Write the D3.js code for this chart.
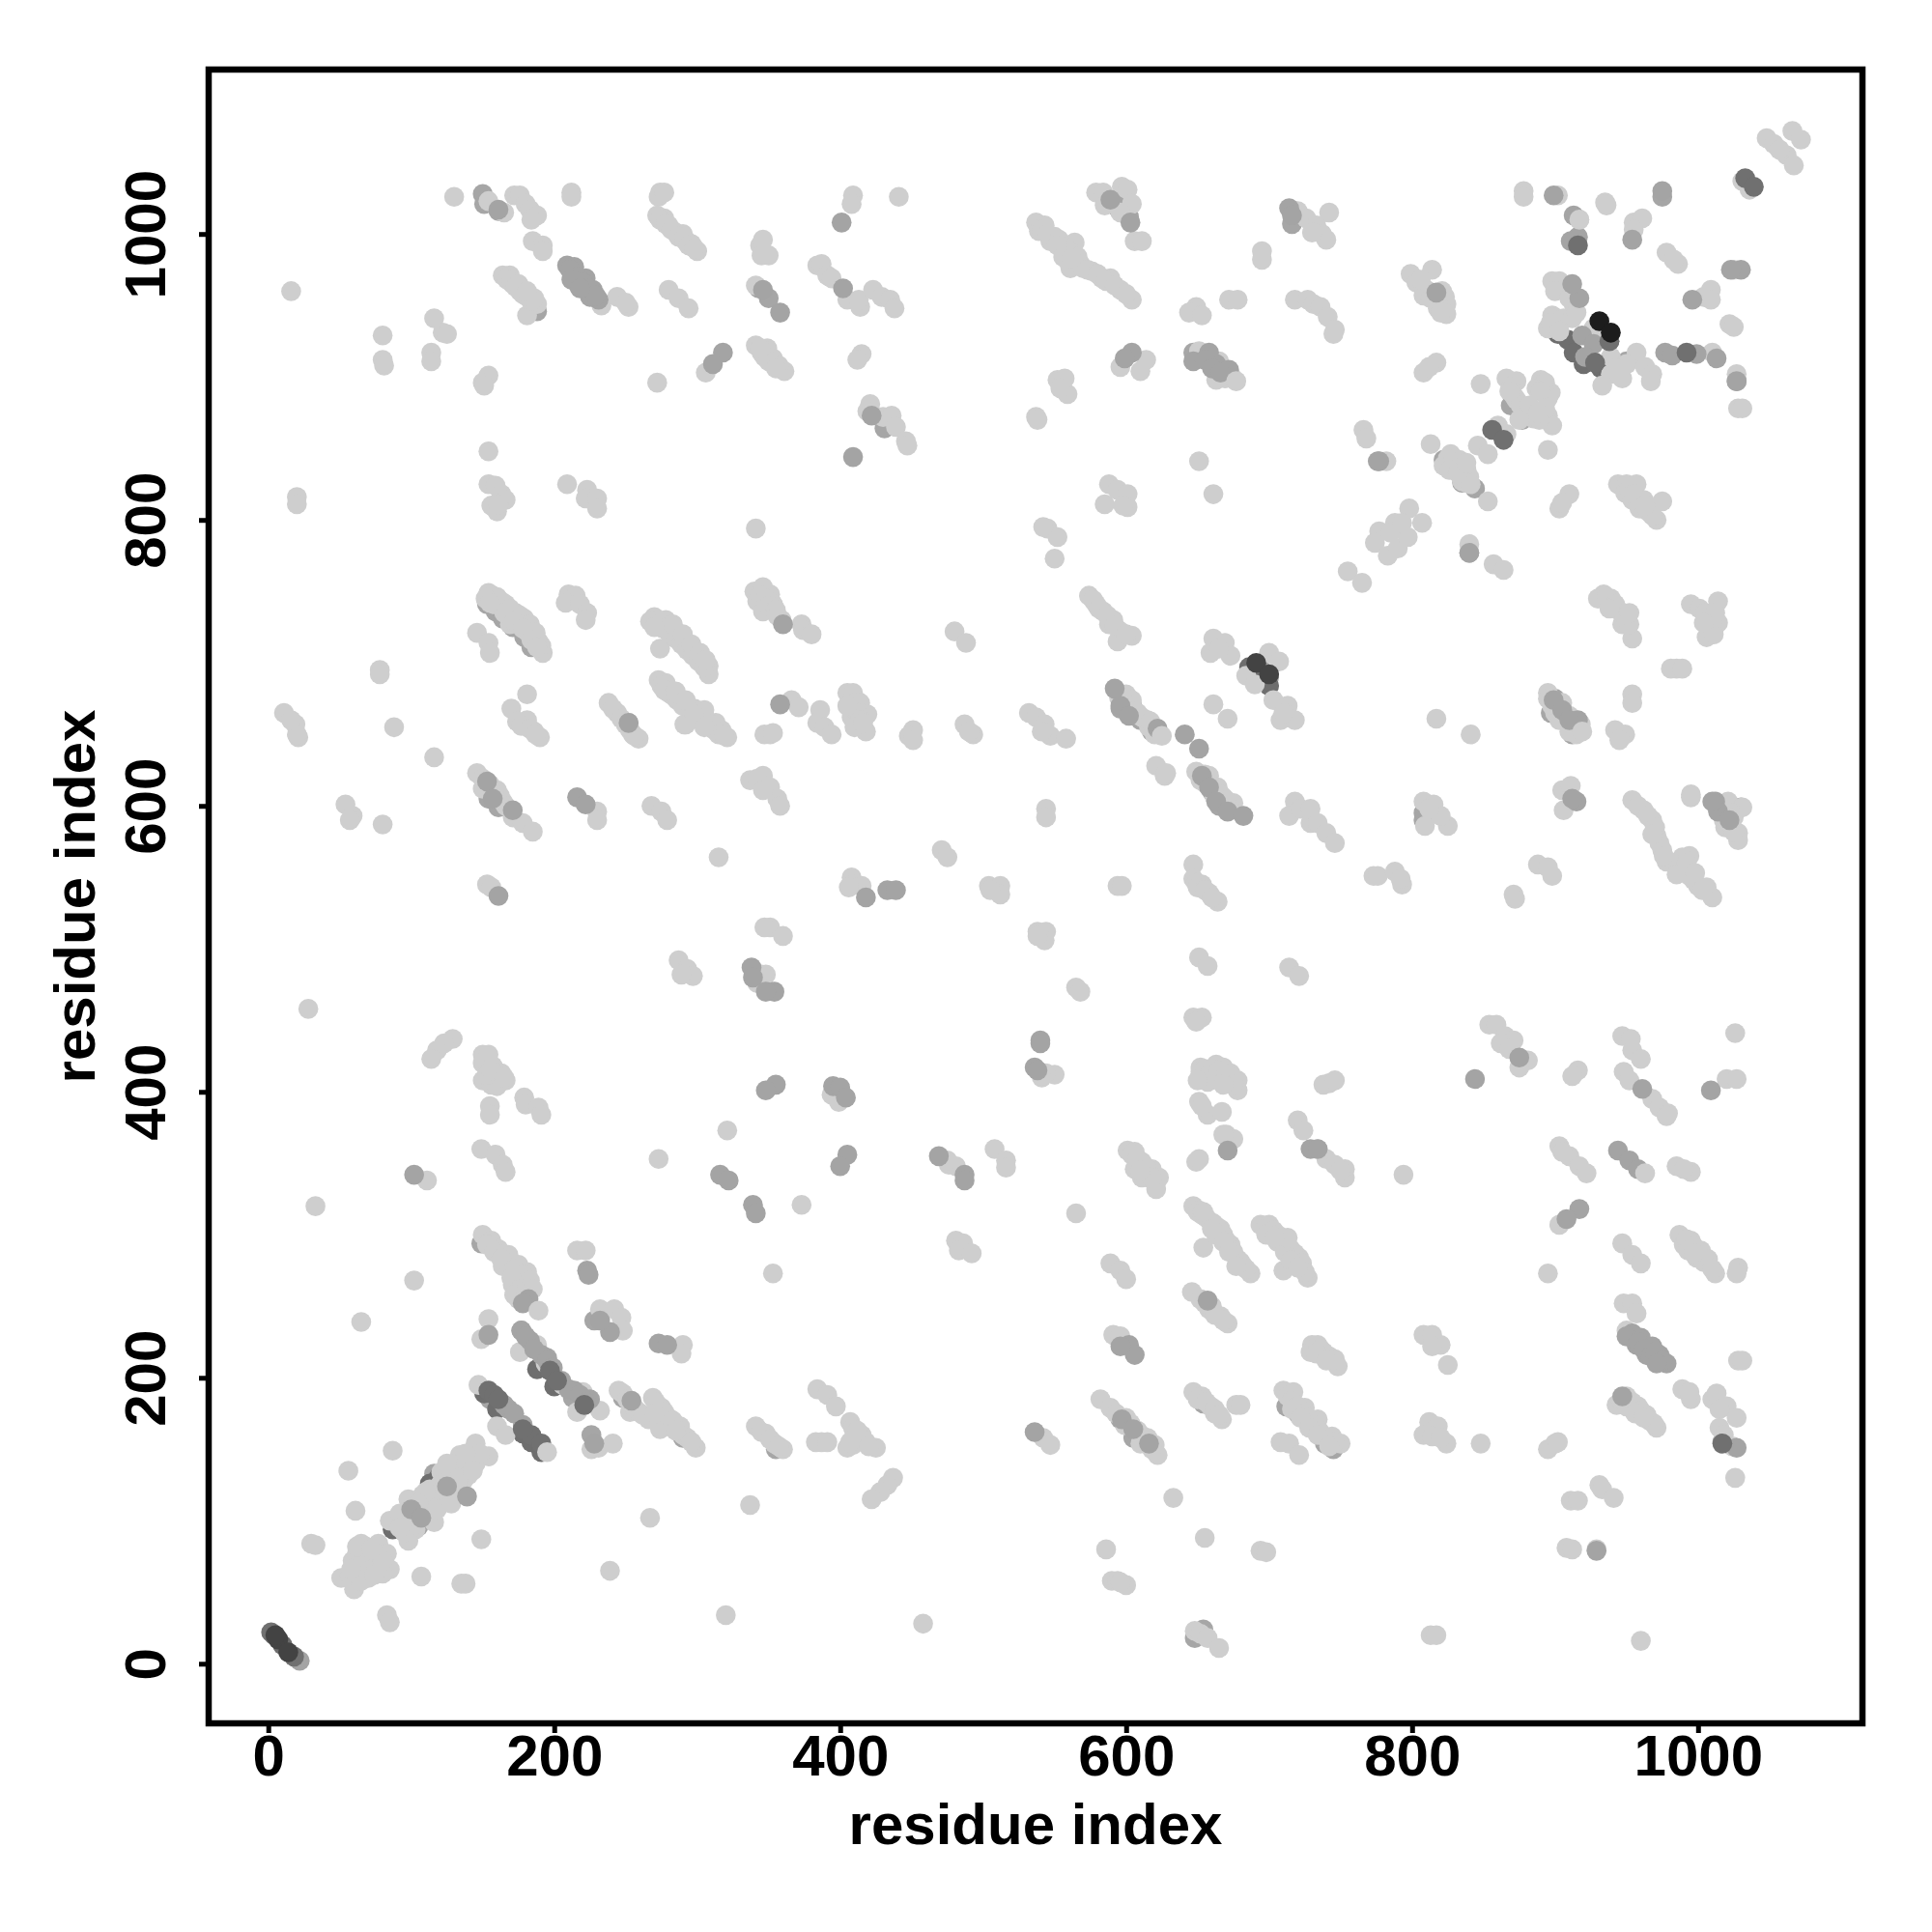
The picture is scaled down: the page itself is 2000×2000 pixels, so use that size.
<!DOCTYPE html>
<html><head><meta charset="utf-8">
<script src="https://cdnjs.cloudflare.com/ajax/libs/d3/7.8.5/d3.min.js"></script>
<style>html,body{margin:0;padding:0;background:#fff}svg{display:block}</style>
</head><body><svg id="chart" width="2000" height="2000"></svg>
<script>
const tickValues = [0,200,400,600,800,1000];
const axisTitle = "residue index";
const shadeNames = ["#a6a6a6","#6e6e6e","#cecece","#cecece","#a4a4a4","#a4a4a4","#707070","#434343","#1c1c1c","#cecece"];

const midUnder = [[150,1028],[151,1021],[161,1016],[188,946],[153,741],[159,736],[164,731],[171,725],[179,718],[184,711],[343,962],[350,955],[431,864],[647,917],[1013,600],[808,595],[808,590],[900,675],[897,665],[912,650],[869,880],[877,870],[822,842],[835,826],[844,822],[154,605],[161,599],[170,597],[252,658],[600,1024],[595,1017],[602,1012],[716,1007],[1030,599],[149,294],[232,241],[228,240],[253,184],[248,186],[155,185],[177,233],[184,222],[195,214],[213,186],[225,183],[290,158],[596,171],[605,158],[654,182],[712,180],[720,175],[739,154],[745,150],[355,150],[654,24],[648,18],[116,133],[124,130],[105,96],[1017,155],[1027,897],[975,1026],[776,841],[840,777],[950,911],[665,600],[660,610],[700,690],[694,696],[604,671],[596,668],[610,660],[618,652],[226,160],[281,166]];
const darkUnder = [[909,926],[913,917],[920,909],[932,906],[188,206],[200,194],[221,181],[160,178],[178,161],[184,155],[87,94],[113,126],[119,130],[4,20],[10,13],[124,133],[151,189],[191,148],[686,697],[700,684],[692,692],[860,864],[902,930],[938,925]];
const lightMarks = [
[16,960],[130,1026],[154,1023],[165,1015],[172,1027],[176,1027],[180,1021],[183,1017],[188,1013],[184,1010],[185,995],[192,992],[192,988],[212,1029],[212,1026],[274,1029],[273,1026],[277,1029],[272,1013],[277,1011],[280,1006],[285,1001],[290,1000],[292,995],[296,993],[300,988],[344,992],[346,996],[350,985],[345,985],[164,971],[169,971],[171,965],[176,960],[181,956],[188,951],[181,943],[233,950],[244,956],[252,949],[250,952],[280,961],[287,955],[294,948],[80,929],[80,912],[81,908],[116,941],[122,931],[125,930],[114,917],[114,911],[154,901],[150,896],[151,894],[272,896],[306,903],[341,964],[341,922],[345,917],[349,920],[353,913],[361,904],[357,908],[154,848],[20,816],[20,811],[154,825],[159,824],[163,818],[166,814],[156,810],[160,806],[161,811],[209,825],[223,821],[222,815],[230,815],[230,808],[341,794],
[154,749],[160,746],[166,741],[173,735],[179,731],[169,727],[181,722],[189,715],[192,707],[174,729],[185,718],[210,748],[215,747],[208,742],[218,741],[223,735],[222,730],[270,732],[267,729],[278,730],[280,725],[288,717],[295,710],[303,704],[308,698],[308,692],[274,710],[284,722],[292,714],[299,707],[273,688],[278,686],[280,679],[288,673],[295,669],[305,667],[313,658],[321,648],[292,657],[303,660],[317,653],[340,750],[342,743],[346,736],[346,753],[351,748],[353,741],[359,730],[373,727],[374,723],[380,720],
[409,1027],[408,1021],[441,1026],[384,978],[387,979],[391,971],[394,969],[405,954],[414,949],[413,954],[423,961],[429,956],[435,954],[438,948],[415,916],[412,912],[421,881],[419,876],[430,872],[436,873],[439,865],[446,855],[447,852],[537,1008],[543,1006],[539,1002],[550,998],[547,995],[564,994],[557,989],[564,986],[560,980],[568,979],[576,974],[589,969],[583,969],[596,961],[604,954],[561,976],[579,1029],[584,1029],[585,1020],[597,1033],[601,1031],[604,1021],[596,1015],[606,995],[611,995],[695,988],[695,982],[720,1016],[726,1011],[742,1015],[740,996],[733,1006],[737,1000],[730,1001],[718,954],[727,954],[731,951],[736,949],[741,942],[746,933],[745,930],[649,949],[644,945],[653,943],[672,954],[678,954],[596,907],[614,912],[610,904],[651,918],[665,911],[672,903],[663,898],[669,899],[552,898],[557,899],[559,888],[554,892],[537,872],[538,870],[651,841],[661,818],[588,825],[594,821],[601,818],[585,811],[601,809],[598,810],[545,794],[552,788],[550,773],[542,795],[574,747],[579,741],[584,736],[591,730],[588,727],[596,722],[604,719],[594,715],
[480,722],[488,714],[661,717],[669,714],[659,707],[673,705],[665,710],[700,707],[707,701],[684,691],[690,685],[703,674],[713,670],[708,660],[718,660],[710,665],[661,671],[671,661],[366,674],[371,669],[386,667],[384,658],[389,655],[394,650],[405,679],[409,679],[414,672],[419,664],[408,662],[418,652],[351,650],[347,650],[353,651],[451,653],[448,649],[451,646],[487,657],[493,650],[490,652],[532,665],[537,662],[543,657],[547,649],[558,647],[541,652],[600,678],[604,674],[608,665],[615,660],[616,655],[621,628],[627,621],[628,623],[649,624],[658,621],[664,613],[668,606],[675,602],[718,603],[714,593],[722,598],[729,588],[729,598],[734,588],[740,581],[746,574],[346,621],[351,613],[356,605],[358,600],[337,618],[342,619],[346,611],[544,598],[544,592],[471,569],[475,564],[408,550],[409,545],[415,544],[406,543],[504,544],[512,544],[512,538],[505,541],[594,544],[597,544],[647,559],[647,549],[653,545],[658,539],[664,533],[649,546],[538,512],[544,512],[543,506],[538,509],[351,515],[347,515],[360,509],[651,494],[657,488],[714,487],[721,481],[565,473],[568,470],[348,482],[346,475],[287,492],[293,486],[297,481],[289,482],[345,482],[342,476],
[550,412],[544,413],[541,410],[647,452],[653,452],[649,449],[652,417],[663,419],[668,417],[662,409],[678,408],[678,401],[673,413],[652,414],[651,393],[657,384],[667,386],[653,390],[670,370],[675,367],[668,370],[649,351],[651,353],[601,359],[606,358],[611,351],[618,346],[623,340],[616,340],[621,332],[606,346],[611,340],[720,380],[724,373],[734,360],[740,353],[746,349],[753,346],[753,340],[750,345],[394,398],[399,393],[476,349],[481,348],[475,352],[508,360],[516,352],[516,347],
[954,717],[1006,718],[1011,723],[995,741],[1001,738],[1014,743],[1007,733],[1014,728],[1009,725],[1011,720],[985,696],[981,696],[989,696],[954,678],[954,672],[817,661],[841,650],[895,679],[905,672],[910,663],[900,665],[942,653],[949,650],[945,646],[808,603],[815,601],[809,586],[825,586],[820,593],[812,598],[905,611],[911,614],[906,597],[954,604],[962,597],[968,590],[971,579],[975,569],[994,565],[978,561],[986,559],[994,551],[1000,544],[1006,543],[1010,536],[989,564],[995,608],[995,606],[1021,603],[1031,599],[1019,585],[1028,581],[1028,576],[1023,595],[888,559],[898,551],[895,557],[871,538],[872,535],[773,551],[776,551],[788,554],[793,545],[792,549],[742,406],[738,405],[746,408],[854,447],[859,447],[865,439],[871,436],[862,434],[881,422],[875,417],[868,430],[916,415],[912,411],[1026,441],[947,439],[953,437],[954,429],[960,423],[948,414],[952,408],[968,395],[973,389],[979,385],[978,383],[1020,409],[1027,409],[903,362],[910,355],[917,348],[922,343],[905,358],[985,348],[995,344],[990,346],[794,342],
[1048,1067],[1053,1063],[1062,1055],[1067,1048],[1066,1072],[1072,1066],[1057,1059],[878,1030],[878,1026],[902,1027],[935,1022],[936,1020],[917,1010],[955,1008],[961,1011],[955,1003],[978,987],[986,979],[983,982],[1025,975],[1009,961],[1004,956],[1009,954],[1022,937],[1025,935],[1010,917],[1027,902],[1028,878],[1031,878],[898,967],[903,967],[906,961],[913,951],[898,943],[895,934],[906,941],[912,941],[901,936],[927,934],[935,927],[939,914],[957,917],[950,909],[939,902],[933,894],[947,899],[963,907],[968,902],[967,897],[943,906],[814,975],[799,972],[803,966],[810,961],[823,956],[824,951],[824,944],[808,957],[818,951],[808,903],[817,910],[812,907],[848,895],[866,899],[873,897],[871,887],[880,877],[890,898],[897,889],[887,892],[893,896],[885,871],[895,873],[898,866],[889,870],[860,866],[866,860],[846,852],[853,846],[895,849],[813,853],[766,863],[768,857],[782,841],[822,838],[827,846],[833,842],[830,837],[838,835],[840,830],[835,827],[853,813],[857,769],[864,765],[840,783],[755,764],[765,756],[944,825],[950,825],[957,825],[949,819],[962,814],[975,813],[959,808],[971,800],[954,814],[910,818],[903,808],[905,812],[934,748],[939,745],[944,737],[950,731],[947,727],[952,727],[930,745],[798,808],[788,798],[777,792],[774,784],[783,775],[790,780],[797,788],[785,791],[793,798],
[11,665],[19,657],[21,648],[20,650],[16,660],[78,695],[78,692],[88,655],[116,634],[146,721],[154,714],[155,707],[54,601],[59,593],[57,590],[80,587],[146,623],[160,611],[164,603],[171,592],[178,588],[185,582],[162,607],[153,545],[156,543],[238,672],[244,665],[253,653],[259,647],[181,678],[170,668],[174,659],[181,660],[190,648],[186,652],[291,657],[230,596],[230,590],[268,600],[275,596],[279,590],[315,564],[28,458],[129,437],[123,434],[118,429],[114,423],[150,426],[154,426],[150,420],[163,413],[166,408],[150,408],[156,405],[160,404],[179,396],[180,391],[189,389],[191,384],[155,390],[155,384],[149,360],[159,356],[164,349],[166,344],[321,373],[273,353],[111,338],
[33,320],[102,268],[65,239],[150,300],[156,296],[161,290],[168,286],[175,279],[181,274],[164,278],[171,265],[175,255],[216,289],[222,289],[232,248],[242,248],[247,242],[248,233],[290,223],[289,217],[341,166],[348,161],[354,154],[360,150],[154,241],[149,227],[176,218],[188,223],[194,210],[206,195],[232,177],[216,176],[220,190],[245,191],[253,176],[259,176],[269,186],[275,179],[280,172],[274,164],[288,166],[290,160],[299,151],[266,171],[147,195],[160,166],[166,160],[226,150],[231,151],[241,154],[145,154],[154,145],[134,146],[140,139],[129,136],[121,134],[137,129],[113,122],[121,115],[129,119],[98,115],[112,112],[116,99],[85,100],[92,105],[103,94],[98,86],[133,141],[126,128],[108,118],[100,100],[65,84],[77,84],[83,77],[59,72],[70,75],[65,65],[72,67],[85,66],[51,60],[60,52],[70,60],[80,63],[57,62],[62,77],[77,75],[68,82],[56,135],[87,149],[61,107],[30,84],[33,83],[149,87],[107,61],[135,56],[138,56],[83,34],[85,29],[239,65],[320,34],[267,102],[337,111],
[373,321],[353,273],[565,315],[481,296],[486,294],[483,289],[492,287],[647,320],[651,317],[656,312],[666,304],[673,293],[654,291],[678,283],[687,273],[661,308],[682,278],[694,307],[700,307],[709,298],[715,290],[721,284],[710,275],[727,270],[718,287],[589,280],[596,275],[600,269],[646,260],[652,255],[658,248],[666,243],[671,238],[591,230],[596,229],[582,185],[589,179],[599,167],[612,159],[620,153],[622,146],[610,154],[384,192],[391,188],[397,180],[387,155],[383,155],[391,155],[407,169],[415,160],[405,151],[425,151],[410,160],[437,130],[433,125],[428,120],[422,115],[542,158],[547,153],[633,116],[586,80],[655,88],[694,79],[698,78],[590,58],[594,58],[600,55],[596,57],[458,28],[648,23],[652,21],[657,18],[665,11],[647,190],[653,187],[659,180],[667,171],[662,175],[677,181],[680,181],[710,191],[717,190],[725,179],[731,169],[734,171],[744,159],[750,154],[708,155],[714,154],[721,146],[730,223],[729,218],[734,223],[738,218],[746,213],[748,208],
[903,307],[895,273],[947,294],[954,286],[960,280],[987,300],[995,296],[1002,289],[1007,283],[1012,273],[990,293],[999,284],[1028,277],[1027,273],[948,252],[954,252],[957,245],[950,233],[1028,212],[1031,212],[808,230],[814,230],[820,223],[814,222],[825,209],[989,192],[995,185],[994,190],[1010,185],[1013,189],[1020,180],[1027,172],[1015,178],[943,181],[950,187],[958,180],[964,174],[971,165],[1015,165],[1018,160],[1024,152],[1026,130],[931,125],[933,122],[941,116],[911,114],[916,114],[908,81],[912,80],[929,80],[813,20],[817,20],[960,16],[848,154],[812,169],[808,160],[818,166],[824,154],[814,159],[820,158],[900,154],[895,150],[902,155]
];
const lightFill = [[157,747],[163,743],[169,738],[176,733],[183,727],[187,721],[191,712],[158,741],[165,735],[172,729],[178,724],[184,716],[188,711],[152,745],[155,742],
[272,727],[276,724],[281,720],[285,717],[289,713],[293,709],[297,705],[301,701],[305,697],[283,727],[290,720],[296,713],[302,707],[306,702],[270,725],
[275,684],[277,681],[283,677],[286,674],[290,670],[298,668],[301,664],[306,661],[309,657],[312,653],[315,650],[319,649],[285,680],[292,674],[298,664],[305,655],
[274,1010],[278,1007],[282,1003],[287,998],[291,997],[294,992],[298,990],[167,968],[170,966],[173,963],[178,958],[184,953],[186,955],[175,965],[181,960],
[541,1003],[545,1000],[553,996],[555,991],[560,988],[566,984],[570,976],[573,975],[580,972],[586,967],[592,964],[600,958],[552,992],[556,984],[562,983],[577,744],[581,738],[587,733],[592,726],[600,720],
[650,316],[653,314],[659,309],[663,306],[668,300],[670,296],[675,288],[680,281],[684,276],[663,300],[668,295],[672,288],[677,278],[654,316],[660,304],
[697,304],[703,303],[706,300],[712,294],[717,287],[723,280],[725,274],[706,295],[711,288],[715,282],[720,277],[698,300],[713,298],[704,298],
[992,297],[997,292],[1000,286],[1004,281],[1010,276],[993,289],[997,287],[736,220],[742,215],[744,212],[733,217],[740,212],
[713,187],[716,184],[720,180],[724,175],[727,172],[730,165],[735,163],[740,158],[746,155],[716,178],[722,172],[728,165],[734,160],[742,152],
[153,293],[158,288],[163,283],[172,276],[178,272],[183,268],[170,270],[176,262],[172,258],[180,260],[185,262],
[120,125],[125,120],[130,125],[135,135],[140,132],[145,140],[148,147],[115,115],[110,105],[105,105],[100,95],[95,92],[92,95],[118,108],[122,122],[128,112],[133,130],[125,140],[138,147],[143,135],[110,120],[105,112],
[67,70],[75,70],[70,65],[62,68],[65,58],[74,62],[80,72],[62,82],[72,80],[58,66],
[600,172],[603,168],[608,163],[615,158],[618,150],[593,175],
[895,675],[900,671],[898,670],[903,667],[907,664],[906,660],[911,658],[914,655],[918,657],[915,650],[903,660],[910,652],
[595,676],[598,673],[602,668],[606,666],[611,662],[617,659],[620,650],[622,652],[652,618],[655,616],[660,612],[662,606],[666,608],[672,600],[670,604],[655,622],
[946,184],[954,183],[960,177],[966,170],[969,168],[950,180],[956,175],[962,172],
[958,600],[965,593],[970,585],[973,574],[982,560],[990,555],[997,548],[1003,541],[968,580],[976,565],[985,552],[992,560],[998,553],
[936,746],[942,741],[948,734],[952,735],[938,738],[1005,735],[1010,730],[1012,735],[1004,728],
[825,843],[828,840],[835,832],[838,826],[841,825],[826,835],[832,833],[838,840],
[869,893],[873,884],[876,880],[884,875],[892,892],[895,885],[890,890],[893,878],[882,880],[875,870],[888,875],[868,890],
[157,418],[160,412],[153,412],[156,415],[165,410],[150,619],[155,615],[158,608],[166,600],[150,612],[650,543],[655,541],[660,536],
[604,356],[608,353],[614,347],[618,340],[610,345],[655,416],[659,413],[665,415],[670,412],[675,405],[657,407],[650,408],[668,405],
[952,822],[955,818],[965,806],[968,803],[963,810],[806,968],[813,955],[818,948],[821,960],[820,945],[674,900],[1025,592],[1025,582],[1018,590],
[410,672],[412,665],[414,660],[410,655],[416,658],[405,670],[177,656],[183,654],[187,650],[241,668],[247,661],[250,657],[255,650],[256,649],
[344,747],[348,745],[350,740],[355,737],[356,733],[347,914],[350,911],[355,906],[344,920],[345,162],[351,157],[357,152],
[409,165],[412,157],[409,153],[412,163],[418,155],[420,152],[407,155],[248,189],[251,185],[256,179],[262,174],[271,183],[277,176],[283,170],[293,158],[296,155],[270,175],[285,163],
[1031,1037],[1036,1031],[900,960],[910,955],[915,945],[897,938],[903,932],[655,252],[662,244],[668,240],[660,250],[650,185],[656,183],[662,178],[665,174]];
const midTop = [[161,1017],[209,978],[214,977],[214,971],[217,964],[227,961],[231,954],[225,956],[222,969],[318,917],[311,909],[346,961],[358,945],[360,727],[401,1008],[402,962],[422,873],[409,844],[604,917],[599,913],[658,917],[647,911],[663,909],[672,905],[603,1008],[589,1024],[714,1018],[716,1013],[358,671],[592,682],[596,670],[602,663],[622,654],[641,650],[651,640],[653,621],[658,613],[663,603],[671,596],[682,593],[671,359],[418,536],[433,541],[439,541],[338,487],[339,480],[354,470],[348,470],[540,436],[540,434],[536,417],[538,415],[355,405],[348,401],[395,404],[400,403],[404,396],[405,356],[400,348],[469,355],[487,342],[487,338],[729,360],[734,360],[916,660],[899,674],[944,359],[952,352],[958,346],[961,402],[1009,401],[844,409],[875,424],[975,1030],[899,1027],[913,1013],[916,998],[911,995],[954,996],[1030,975],[996,954],[999,916],[1013,913],[1027,897],[919,929],[927,923],[921,914],[917,955],[912,965],[817,959],[777,841],[840,777],[171,597],[153,617],[157,605],[216,606],[222,601],[161,537],[252,658],[102,342],[316,342],[322,338],[339,321],[341,315],[239,232],[232,240],[223,275],[224,272],[273,224],[279,223],[154,230],[177,233],[183,226],[191,216],[214,191],[225,185],[168,178],[178,167],[228,154],[125,124],[139,117],[100,108],[107,102],[602,223],[606,216],[596,222],[657,254],[597,171],[605,164],[616,154],[536,162],[917,318],[908,311],[954,231],[960,228],[957,223],[968,222],[973,216],[978,210],[964,216],[947,187],[1027,151],[929,79],[22,2],[182,255],[178,252],[254,184],[1012,603],[1014,596],[1022,590],[915,603],[912,605],[977,917],[982,915],[1010,603],[1023,975]];
const midFill = [[165,181],[172,175],[180,229],[186,220],[195,212],[199,207],[205,198],[210,192],[218,188],[222,183],[211,975],[216,970],[220,966],[224,962],[229,957],[212,968],[218,962],[950,229],[958,225],[962,220],[967,215],[970,218],[975,212],[971,210],[655,912],[660,906],[666,903],[905,667],[910,660]];
const darkTop = [[154,191],[158,188],[161,185],[184,160],[178,164],[191,154],[197,205],[202,198],[221,181],[1033,1039],[1039,1033],[856,863],[864,856],[916,992],[992,917],[928,910],[18,5],[2,22],[938,925],[1017,154]];
const darkerTop = [[691,700],[700,692],[7,17],[14,8],[5,20]];
const blackTop = [[931,939],[939,931]];
const lightOver = [[195,148],[677,897],[963,343],[625,649],[189,247],[807,798],[919,652],[917,1010]];

const markLayers = [midUnder,darkUnder,lightMarks,lightFill,midTop,midFill,darkTop,darkerTop,blackTop,lightOver];

const svg = d3.select("#chart");
const frameLeft=216,frameRight=1928,frameTop=72,frameBottom=1784;
const x = d3.scaleLinear().domain([-41.7,1115]).range([frameLeft,frameRight]);
const y = d3.scaleLinear().domain([-41.7,1115]).range([frameBottom,frameTop]);

svg.append("rect").attr("width",2000).attr("height",2000).attr("fill","#fff");
const plot = svg.append("g");
markLayers.forEach((layer,i)=>{
  plot.append("g").selectAll("circle").data(layer).join("circle")
    .attr("cx",d=>x(d[0])).attr("cy",d=>y(d[1])).attr("r",10.3).attr("fill",shadeNames[i]);
});

svg.append("rect").attr("x",frameLeft).attr("y",frameTop).attr("width",frameRight-frameLeft).attr("height",frameBottom-frameTop)
  .attr("fill","none").attr("stroke","#000").attr("stroke-width",6.5);

const font = "'Liberation Sans',Arial,sans-serif";
const gx = svg.append("g").attr("transform",`translate(0,${frameBottom})`)
  .call(d3.axisBottom(x).tickValues(tickValues).tickFormat(d3.format("d")).tickSize(10).tickPadding(0));
const gy = svg.append("g").attr("transform",`translate(${frameLeft},0)`)
  .call(d3.axisLeft(y).tickValues(tickValues).tickFormat(d3.format("d")).tickSize(10).tickPadding(0));
[gx,gy].forEach(g=>{
  g.select(".domain").remove();
  g.selectAll("line").attr("stroke","#000").attr("stroke-width",5);
  g.selectAll("text").attr("font-family",font).attr("font-weight","bold").attr("font-size",60).attr("fill","#000");
});
gx.selectAll("text").attr("y",54).attr("dy",0).attr("text-anchor","middle");
gy.selectAll("text").attr("x",0).attr("y",0).attr("dy",0).attr("text-anchor","middle")
  .attr("transform","translate(-45,0) rotate(-90)");
svg.append("text").attr("x",(frameLeft+frameRight)/2).attr("y",1909).attr("text-anchor","middle")
  .attr("font-family",font).attr("font-weight","bold").attr("font-size",60).text(axisTitle);
svg.append("text").attr("transform",`translate(98,${(frameTop+frameBottom)/2}) rotate(-90)`).attr("text-anchor","middle")
  .attr("font-family",font).attr("font-weight","bold").attr("font-size",60).text(axisTitle);
</script></body></html>
